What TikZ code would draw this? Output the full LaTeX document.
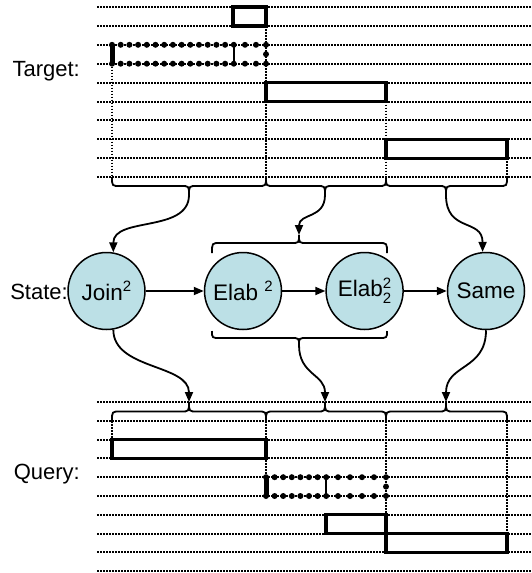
\documentclass[tikz,border=0pt]{standalone}
\usepackage{fontspec}
\setmainfont{Liberation Sans}
\usetikzlibrary{arrows.meta}
\definecolor{nodefill}{RGB}{188,224,230}
\newcommand{\supr}[1]{\raisebox{8.5pt}{\fontsize{15}{15}\selectfont #1}}
\newcommand{\supsubr}[2]{\rlap{\raisebox{8.5pt}{\fontsize{15}{15}\selectfont #1}}\raisebox{-7pt}{\fontsize{15}{15}\selectfont #2}}
% brace: x1, x2, xm, yend, yarm, ytip, name
\newcommand{\hbr}[7]{%
  \draw[brace] (#1,#4) .. controls (#1,#5) .. (#1+8,#5) -- (#3-8,#5)
    .. controls (#3,#5) .. (#3,#6) .. controls (#3,#5) .. (#3+8,#5)
    -- (#2-8,#5) .. controls (#2,#5) .. (#2,#4);
  \coordinate (#7) at (#3,#6);}
\begin{document}
\begin{tikzpicture}[x=1pt,y=-1pt,
  gridline/.style={line width=2pt, dash pattern=on 1.8pt off 1.2pt},
  vdot/.style={line width=1.8pt, dash pattern=on 1.7pt off 1.3pt},
  solidbox/.style={line width=3.2pt},
  bigdotfill/.style={fill=black},
  brace/.style={line width=1.8pt},
  conn/.style={line width=1.8pt, -{Triangle[length=10pt,width=8pt]}},
  statenode/.style={circle, draw, line width=1.5pt, fill=nodefill, minimum size=77pt, inner sep=0pt, font=\fontsize{22.5}{26}\selectfont},
  lbl/.style={inner sep=0pt, font=\fontsize{22}{26}\selectfont}]
\useasboundingbox (0,0) rectangle (532,573);

% grid lines
\foreach \i in {0,...,9} {
  \draw[gridline] (97,7+18.9*\i) -- (532,7+18.9*\i);
  \draw[gridline] (97,402+18.8*\i) -- (532,402+18.8*\i);
}

% top vertical dotted guides
\draw[vdot] (112,63.7) -- (112,177.1);
\draw[vdot] (266,25.9) -- (266,177.1);
\draw[vdot] (386,101.5) -- (386,177.1);
\draw[vdot] (507,158.2) -- (507,177.1);
% bottom vertical dotted guides
\draw[vdot] (112,420.8) -- (112,439.6);
\draw[vdot] (266,420.8) -- (266,477.2);
\draw[vdot] (386,420.8) -- (386,533.6);
\draw[vdot] (507,420.8) -- (507,533.6);

% top boxes
\draw[solidbox] (233,7) rectangle (266,25.9);
% dotted (bold) box, top
\foreach \k in {0,...,14} {
  \fill[bigdotfill] (112+8.7*\k,44.8) circle (3pt);
  \fill[bigdotfill] (112+8.7*\k,63.7) circle (3pt);
}
\foreach \x in {245,256,266} {
  \fill[bigdotfill] (\x,44.8) circle (3pt);
  \fill[bigdotfill] (\x,63.7) circle (3pt);
}
\fill[bigdotfill] (266,54.2) circle (3pt);
\draw[line width=5pt] (112,45) -- (112,63.5);
\draw[line width=1.8pt] (234,44.8) -- (234,63.7);
\draw[solidbox] (266,82.6) rectangle (386,101.5);
\draw[solidbox] (386,139.3) rectangle (507,158.2);

% bottom boxes
\draw[solidbox] (112,439.6) rectangle (266,458.4);
\foreach \k in {0,...,7} {
  \fill[bigdotfill] (266+8.6*\k,477.2) circle (3pt);
  \fill[bigdotfill] (266+8.6*\k,496) circle (3pt);
}
\foreach \x in {338,350,362,374,386} {
  \fill[bigdotfill] (\x,477.2) circle (3pt);
  \fill[bigdotfill] (\x,496) circle (3pt);
}
\fill[bigdotfill] (386,486.6) circle (3pt);
\draw[line width=5pt] (266,477.4) -- (266,495.8);
\draw[line width=1.8pt] (326,477.2) -- (326,496);
\draw[solidbox] (326,514.8) rectangle (386,533.6);
\draw[solidbox] (386,533.6) rectangle (507,552.4);

% labels
\node[lbl, anchor=base east] (target) at (80,76) {Target:};
\node[lbl, anchor=base east] (query) at (80,479) {Query:};

% state nodes
\node[statenode] (J) at (106.5,291) {Join\supr{2}};
\node[statenode] (E1) at (243,291) {Elab \supr{2}};
\node[statenode] (E2) at (364.6,291) {Elab\supsubr{2}{2}};
\node[statenode] (S) at (486,291) {Same};
\node[lbl, anchor=base east] (state) at (68,299) {State:};

\draw[conn] (J) -- (E1);
\draw[conn] (E1) -- (E2);
\draw[conn] (E2) -- (S);

% braces
\hbr{112}{266}{189}{177.1}{186}{195}{tA}
\hbr{266}{386}{325}{177.1}{186}{195}{tB}
\hbr{386}{507}{446}{177.1}{186}{195}{tC}
\hbr{212}{387}{299}{253}{243}{235}{eT}
\hbr{212}{387}{299}{331}{338}{345}{eB}
\hbr{112}{266}{189}{420.8}{411.5}{402}{bA}
\hbr{266}{386}{325}{420.8}{411.5}{402}{bB}
\hbr{386}{507}{446}{420.8}{411.5}{402}{bC}

% connectors
\draw[conn] (tA) .. controls +(0,38) and +(0,-36) .. (J.80);
\draw[conn] (tB) .. controls +(0,24) and +(0,-22) .. (eT);
\draw[conn] (tC) .. controls +(0,38) and +(0,-34) .. (S.95);
\draw[conn] (J.-80) .. controls +(0,40) and +(0,-38) .. (bA);
\draw[conn] (eB) .. controls +(0,30) and +(0,-28) .. (bB);
\draw[conn] (S.-90) .. controls +(0,40) and +(0,-38) .. (bC);
\end{tikzpicture}
\end{document}
